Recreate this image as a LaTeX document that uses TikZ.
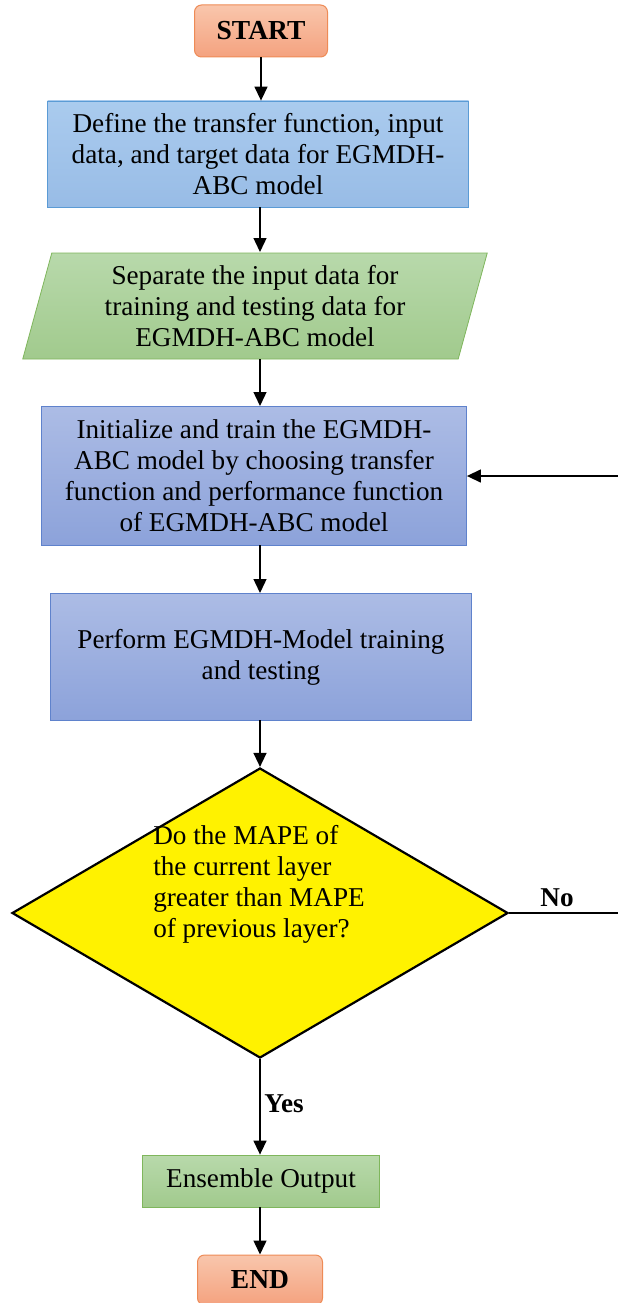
\documentclass[tikz,border=0pt]{standalone}
\usepackage{fontspec}
\setmainfont{Liberation Serif}
\usetikzlibrary{shapes.geometric}
\usetikzlibrary{arrows.meta}
\usetikzlibrary{positioning}

\definecolor{startTop}{HTML}{F9C6AC}
\definecolor{startBot}{HTML}{F4A27F}
\definecolor{startLine}{HTML}{EE8B56}
\definecolor{blueTop}{HTML}{AACBEE}
\definecolor{blueBot}{HTML}{98BCE6}
\definecolor{blueLine}{HTML}{5B9BD5}
\definecolor{greenTop}{HTML}{B8D9AB}
\definecolor{greenBot}{HTML}{A1CA8D}
\definecolor{greenLine}{HTML}{7FB65C}
\definecolor{violTop}{HTML}{ACBCE5}
\definecolor{violBot}{HTML}{8CA2DA}
\definecolor{violLine}{HTML}{5F82CC}

\begin{document}
\begin{tikzpicture}[x=1pt,y=-1pt,
  txt/.style={font=\fontsize{27.2}{31}\selectfont, align=center, text=black},
  terminal/.style={txt, rectangle, rounded corners=7pt, draw=startLine, line width=1pt,
    top color=startTop, bottom color=startBot, font=\fontsize{27.5}{31}\selectfont\bfseries},
  bluebox/.style={txt, rectangle, draw=blueLine, line width=0.8pt, top color=blueTop, bottom color=blueBot},
  greenbox/.style={txt, draw=greenLine, line width=0.8pt, top color=greenTop, bottom color=greenBot},
  violbox/.style={txt, rectangle, draw=violLine, line width=0.8pt, top color=violTop, bottom color=violBot},
  decision/.style={diamond, draw=black, line width=2.2pt, fill=yellow, inner sep=0pt},
  flow/.style={draw=black, line width=1.4pt, -{Triangle[length=14pt,width=13pt]}},
  plain/.style={draw=black, line width=1.4pt},
  lbl/.style={font=\fontsize{27.2}{31}\selectfont\bfseries, text=black}]
\useasboundingbox (0,0) rectangle (618,1303);

\node[terminal, minimum width=133pt, minimum height=52pt] (start) at (261,31) {START};
\node[bluebox, minimum width=421pt, minimum height=106pt] (define) at (258,154)
  {Define the transfer function, input\\data, and target data for EGMDH-\\ABC model};
\node[greenbox, trapezium, trapezium left angle=76, trapezium right angle=104,
  trapezium stretches=true, minimum width=466pt, minimum height=106pt] (separate) at (255,306)
  {Separate the input data for\\training and testing data for\\EGMDH-ABC model};
\node[violbox, minimum width=425pt, minimum height=139pt] (init) at (254,476)
  {Initialize and train the EGMDH-\\ABC model by choosing transfer\\function and performance function\\of EGMDH-ABC model};
\node[violbox, minimum width=421pt, minimum height=127pt] (perform) at (261,657)
  {Perform EGMDH-Model training\\and testing};
\node[decision, minimum width=496pt, minimum height=290pt] (check) at (260,913) {};
\node[txt, align=left] (checktext) at (259,884)
  {Do the MAPE of\\the current layer\\greater than MAPE\\of previous layer?};
\node[greenbox, rectangle, minimum width=237pt, minimum height=52pt] (output) at (261,1181) {Ensemble Output};
\node[terminal, minimum width=125pt, minimum height=50pt] (end) at (260,1280) {END};

\coordinate (loopin) at (618,476);
\coordinate (noend) at (618,913);

\draw[flow] (start.south) -- (start.south |- define.north);
\draw[flow] (260,207) -- (260,252);
\draw[flow] (260,359) -- (260,406);
\draw[flow] (260,545) -- (260,593);
\draw[flow] (260,720) -- (check.north);
\draw[flow] (check.south) -- (check.south |- output.north);
\draw[flow] (output.south -| end.north) -- (end.north);
\draw[flow] (loopin) -- (init.east);
\draw[plain] (check.east) -- (noend);

\node[lbl] (no) at (557,898) {No};
\node[lbl] (yes) at (284,1104) {Yes};

\end{tikzpicture}
\end{document}
